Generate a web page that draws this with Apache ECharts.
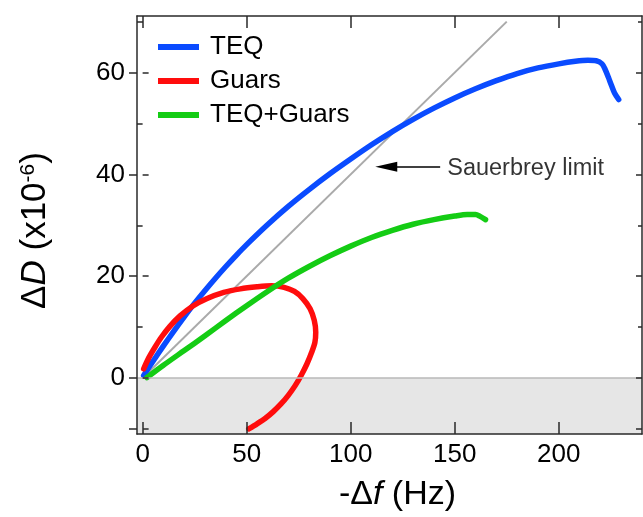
<!DOCTYPE html>
<html>
<head>
<meta charset="utf-8">
<script src="https://cdn.jsdelivr.net/npm/echarts@6/dist/echarts.min.js"></script>
<style>
html,body{margin:0;padding:0;background:#fff;}
#chart{width:643px;height:517px;}
</style>
</head>
<body>
<div id="chart"></div>
<script>
// ---- data ----
const teqF  = [0.5, 5, 10, 15, 20, 25, 30, 35, 40, 45, 50, 60, 70, 80, 90, 100, 110, 120, 130, 140, 150, 160, 170, 180, 190, 200, 208, 214, 218, 220.8, 222.3, 223.8, 225.3, 226.8, 228.8];
const teqD  = [0.5, 3.3, 6.3, 9.2, 12.0, 14.7, 17.2, 19.6, 21.9, 24.1, 26.2, 30.1, 33.7, 37.0, 40.1, 43.0, 45.8, 48.4, 50.8, 53.0, 55.0, 56.8, 58.4, 59.8, 60.9, 61.7, 62.2, 62.4, 62.3, 61.7, 60.6, 59.1, 57.5, 56.0, 54.7];

const guarsF = [0.5, 3, 6, 9, 13, 18, 24, 31, 39, 47, 55, 62, 68, 73, 77, 80.5, 82.5, 83.2, 82.8, 81.2, 79, 76.3, 73.3, 70, 66.5, 62.8, 59, 55, 51];
const guarsD = [1.8, 4.0, 6.1, 8.0, 10.1, 12.2, 14.1, 15.6, 16.8, 17.5, 17.9, 18.1, 17.8, 17.0, 15.6, 13.6, 11.3, 9.0, 7.0, 5.0, 2.8, 0.6, -1.5, -3.4, -5.1, -6.6, -7.9, -9.0, -10.0];

const comboF = [2.1, 10, 20, 30, 40, 50, 60, 70, 80, 90, 100, 110, 120, 130, 140, 150, 156, 160, 162, 164.8];
const comboD = [0.1, 2.5, 5.4, 8.3, 11.3, 14.2, 17.0, 19.6, 21.9, 24.0, 25.9, 27.6, 29.0, 30.2, 31.1, 31.8, 32.1, 32.1, 31.8, 31.1];

const sauerbreyF = [0, 175];
const sauerbreyD = [0, 70];

const seriesNames = ['TEQ', 'Guars', 'TEQ+Guars'];
const xTickValues = [0, 50, 100, 150, 200];
const yLabelValues = [0, 20, 40, 60];
const yMajorTicks = [-10, 0, 20, 40, 60];
const yMinorTicks = [10, 30, 50, 70];

const annotationText = 'Sauerbrey limit';
const arrowFrom = [143, 41.5];
const arrowTo = [117.1, 41.5];
const annotationAt = [146.4, 41.2];

const X_MIN = -2.7, X_MAX = 240;
const Y_MIN = -11, Y_MAX = 71.1;

function pairs(xs, ys) { return xs.map((x, i) => [x, ys[i]]); }

const FONT = '"Liberation Sans", Arial, Helvetica, sans-serif';
const AX = '#2a2a2a';

const chart = echarts.init(document.getElementById('chart'), null, {renderer: 'canvas'});

function yAx(opts) {
  return Object.assign({
    type: 'value', min: Y_MIN, max: Y_MAX, position: 'left', z: 10,
    axisLine: {show: false},
    axisLabel: {show: false},
    splitLine: {show: false},
    axisTick: {show: false}
  }, opts);
}

const option = {
  animation: false,
  textStyle: {fontFamily: FONT, color: '#000'},
  grid: {left: 137, right: 1, top: 16, bottom: 82},
  legend: {
    data: seriesNames,
    orient: 'vertical',
    left: 153, top: 29,
    icon: 'rect',
    itemWidth: 41, itemHeight: 6, itemGap: 8,
    textStyle: {fontSize: 26, fontFamily: FONT, color: '#000', padding: [0, 0, 0, 6], lineHeight: 25}
  },
  xAxis: [
    {
      type: 'value', min: X_MIN, max: X_MAX, position: 'bottom', z: 10,
      axisLine: {show: true, onZero: false, lineStyle: {color: AX, width: 1.5}},
      axisTick: {show: true, inside: true, length: 12, customValues: xTickValues, lineStyle: {color: AX, width: 1.5}},
      axisLabel: {show: true, customValues: xTickValues, fontSize: 26, margin: 8, color: '#000', fontFamily: FONT},
      splitLine: {show: false},
      name: '-Δ{i|f} (Hz)',
      nameLocation: 'middle',
      nameGap: 44,
      nameTextStyle: {fontSize: 34, color: '#000', fontFamily: FONT, padding: [0, 0, 0, 16],
        rich: {i: {fontSize: 34, fontStyle: 'italic', fontFamily: FONT, color: '#000'}}}
    },
    {
      type: 'value', min: X_MIN, max: X_MAX, position: 'top', z: 10,
      axisLine: {show: true, onZero: false, lineStyle: {color: AX, width: 1.5}},
      axisTick: {show: true, inside: true, length: 12, customValues: xTickValues, lineStyle: {color: AX, width: 1.5}},
      axisLabel: {show: false},
      splitLine: {show: false}
    }
  ],
  yAxis: [
    yAx({
      axisLine: {show: true, onZero: false, lineStyle: {color: AX, width: 1.5}},
      axisTick: {show: true, inside: false, length: 8, customValues: yMajorTicks, lineStyle: {color: AX, width: 1.5}},
      axisLabel: {show: true, customValues: yLabelValues, fontSize: 26, margin: 12, color: '#000', fontFamily: FONT},
      name: '{n|Δ}{i|D}{n| (x10}{s|-6}{n|)}',
      nameLocation: 'middle',
      nameRotate: 90,
      nameGap: 84,
      nameTextStyle: {color: '#000', fontFamily: FONT, fontSize: 35, padding: [0, 11, 0, 0],
        rich: {
          n: {fontSize: 35, fontFamily: FONT, color: '#000'},
          i: {fontSize: 35, fontStyle: 'italic', fontFamily: FONT, color: '#000'},
          s: {fontSize: 21, fontFamily: FONT, color: '#000', verticalAlign: 'top'}
        }}
    }),
    yAx({axisTick: {show: true, inside: true, length: 6, customValues: yMajorTicks, lineStyle: {color: AX, width: 1.5}}}),
    yAx({axisTick: {show: true, inside: false, length: 4, customValues: yMinorTicks, lineStyle: {color: AX, width: 1.5}}}),
    yAx({axisTick: {show: true, inside: true, length: 4, customValues: yMinorTicks, lineStyle: {color: AX, width: 1.5}}}),
    yAx({position: 'right',
      axisLine: {show: true, onZero: false, lineStyle: {color: AX, width: 1.5}},
      axisTick: {show: true, inside: true, length: 6, customValues: yMajorTicks, lineStyle: {color: AX, width: 1.5}}}),
    yAx({position: 'right',
      axisTick: {show: true, inside: true, length: 4, customValues: yMinorTicks, lineStyle: {color: AX, width: 1.5}}})
  ],
  series: [
    {
      name: 'Sauerbrey',
      type: 'line',
      z: 1,
      data: pairs(sauerbreyF, sauerbreyD),
      showSymbol: false,
      silent: true,
      lineStyle: {color: '#aaaaaa', width: 2},
      itemStyle: {color: '#aaaaaa'},
      markArea: {
        silent: true,
        itemStyle: {color: '#e6e6e6'},
        data: [[{yAxis: Y_MIN}, {yAxis: 0}]]
      },
      markLine: {
        silent: true,
        symbol: ['none', 'none'],
        label: {show: false},
        data: [
          {yAxis: 0, lineStyle: {color: '#b8b8b8', width: 1.5, type: 'solid'}},
          [
            {coord: arrowFrom, symbol: 'none', lineStyle: {color: '#000', width: 1.5, type: 'solid'}},
            {coord: arrowTo, symbol: 'path://M5,0L10,22L0,22Z', symbolSize: [10, 22], itemStyle: {color: '#000'}}
          ]
        ]
      }
    },
    {
      name: 'TEQ', type: 'line', z: 3, smooth: 0.3,
      data: pairs(teqF, teqD), showSymbol: false,
      lineStyle: {color: '#0a4bff', width: 5.5, cap: 'round', join: 'round'},
      itemStyle: {color: '#0a4bff'}
    },
    {
      name: 'Guars', type: 'line', z: 3, smooth: 0.3,
      data: pairs(guarsF, guarsD), showSymbol: false,
      lineStyle: {color: '#ff0d0d', width: 5.5, cap: 'round', join: 'round'},
      itemStyle: {color: '#ff0d0d'}
    },
    {
      name: 'TEQ+Guars', type: 'line', z: 3, smooth: 0.3,
      data: pairs(comboF, comboD), showSymbol: false,
      lineStyle: {color: '#14cc14', width: 5.5, cap: 'round', join: 'round'},
      itemStyle: {color: '#14cc14'}
    },
    {
      name: 'annotation', type: 'scatter', z: 4, silent: true,
      symbolSize: 0,
      data: [annotationAt],
      label: {show: true, position: 'right', distance: 0, formatter: annotationText,
        fontSize: 23.5, color: '#000', fontFamily: FONT}
    }
  ]
};
chart.setOption(option);
</script>
</body>
</html>
